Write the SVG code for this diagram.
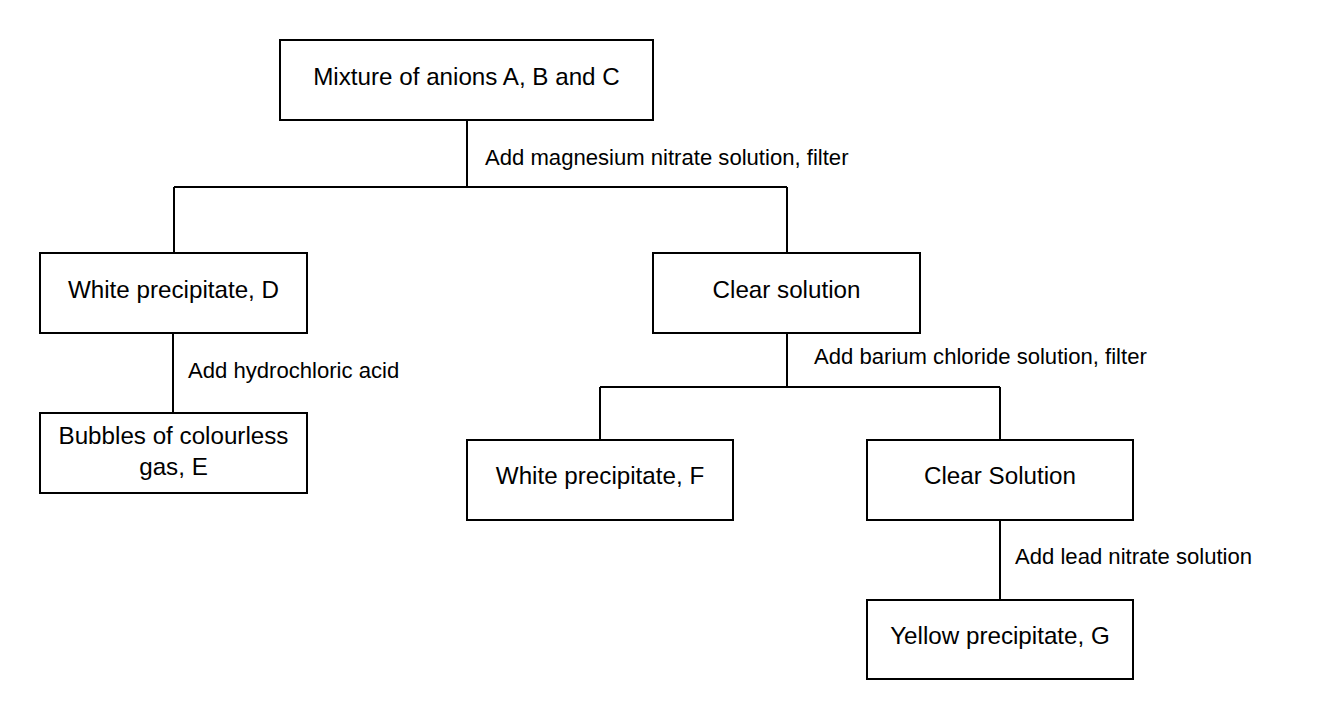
<svg xmlns="http://www.w3.org/2000/svg" width="1333" height="720" viewBox="0 0 1333 720">
<style>
.box{fill:#ffffff;stroke:#000000;stroke-width:2}
.t{font-family:"Liberation Sans",Arial,sans-serif;font-size:24.2px;fill:#000000;text-anchor:middle}
.lbl{font-family:"Liberation Sans",Arial,sans-serif;font-size:22.1px;fill:#000000}
.c{fill:none;stroke:#000000;stroke-width:2}
</style>
<rect width="1333" height="720" fill="#ffffff"/>
<g id="connectors">
<path class="c" d="M467,120 V187 M174,187 H787 M174,187 V253 M787,187 V253"/>
<path class="c" d="M173,333 V413"/>
<path class="c" d="M787,333 V387 M600,387 H1000 M600,387 V440 M1000,387 V440"/>
<path class="c" d="M1000,520 V600"/>
<text class="lbl" x="485" y="164.5">Add magnesium nitrate solution, filter</text>
<text class="lbl" x="188" y="377.5">Add hydrochloric acid</text>
<text class="lbl" x="814" y="364">Add barium chloride solution, filter</text>
<text class="lbl" x="1015" y="564">Add lead nitrate solution</text>
</g>
<g id="n-mixture">
<rect class="box" x="280" y="40" width="373" height="80"/>
<text class="t" x="466.5" y="84.5">Mixture of anions A, B and C</text>
</g>
<g id="n-white-d">
<rect class="box" x="40" y="253" width="267" height="80"/>
<text class="t" x="173.5" y="297.5">White precipitate, D</text>
</g>
<g id="n-clear1">
<rect class="box" x="653" y="253" width="267" height="80"/>
<text class="t" x="786.5" y="297.5">Clear solution</text>
</g>
<g id="n-bubbles">
<rect class="box" x="40" y="413" width="267" height="80"/>
<text class="t" x="173.5" y="444">Bubbles of colourless</text>
<text class="t" x="173.5" y="475">gas, E</text>
</g>
<g id="n-white-f">
<rect class="box" x="467" y="440" width="266" height="80"/>
<text class="t" x="600" y="484">White precipitate, F</text>
</g>
<g id="n-clear2">
<rect class="box" x="867" y="440" width="266" height="80"/>
<text class="t" x="1000" y="484">Clear Solution</text>
</g>
<g id="n-yellow">
<rect class="box" x="867" y="600" width="266" height="79"/>
<text class="t" x="1000" y="643.5">Yellow precipitate, G</text>
</g>
</svg>
